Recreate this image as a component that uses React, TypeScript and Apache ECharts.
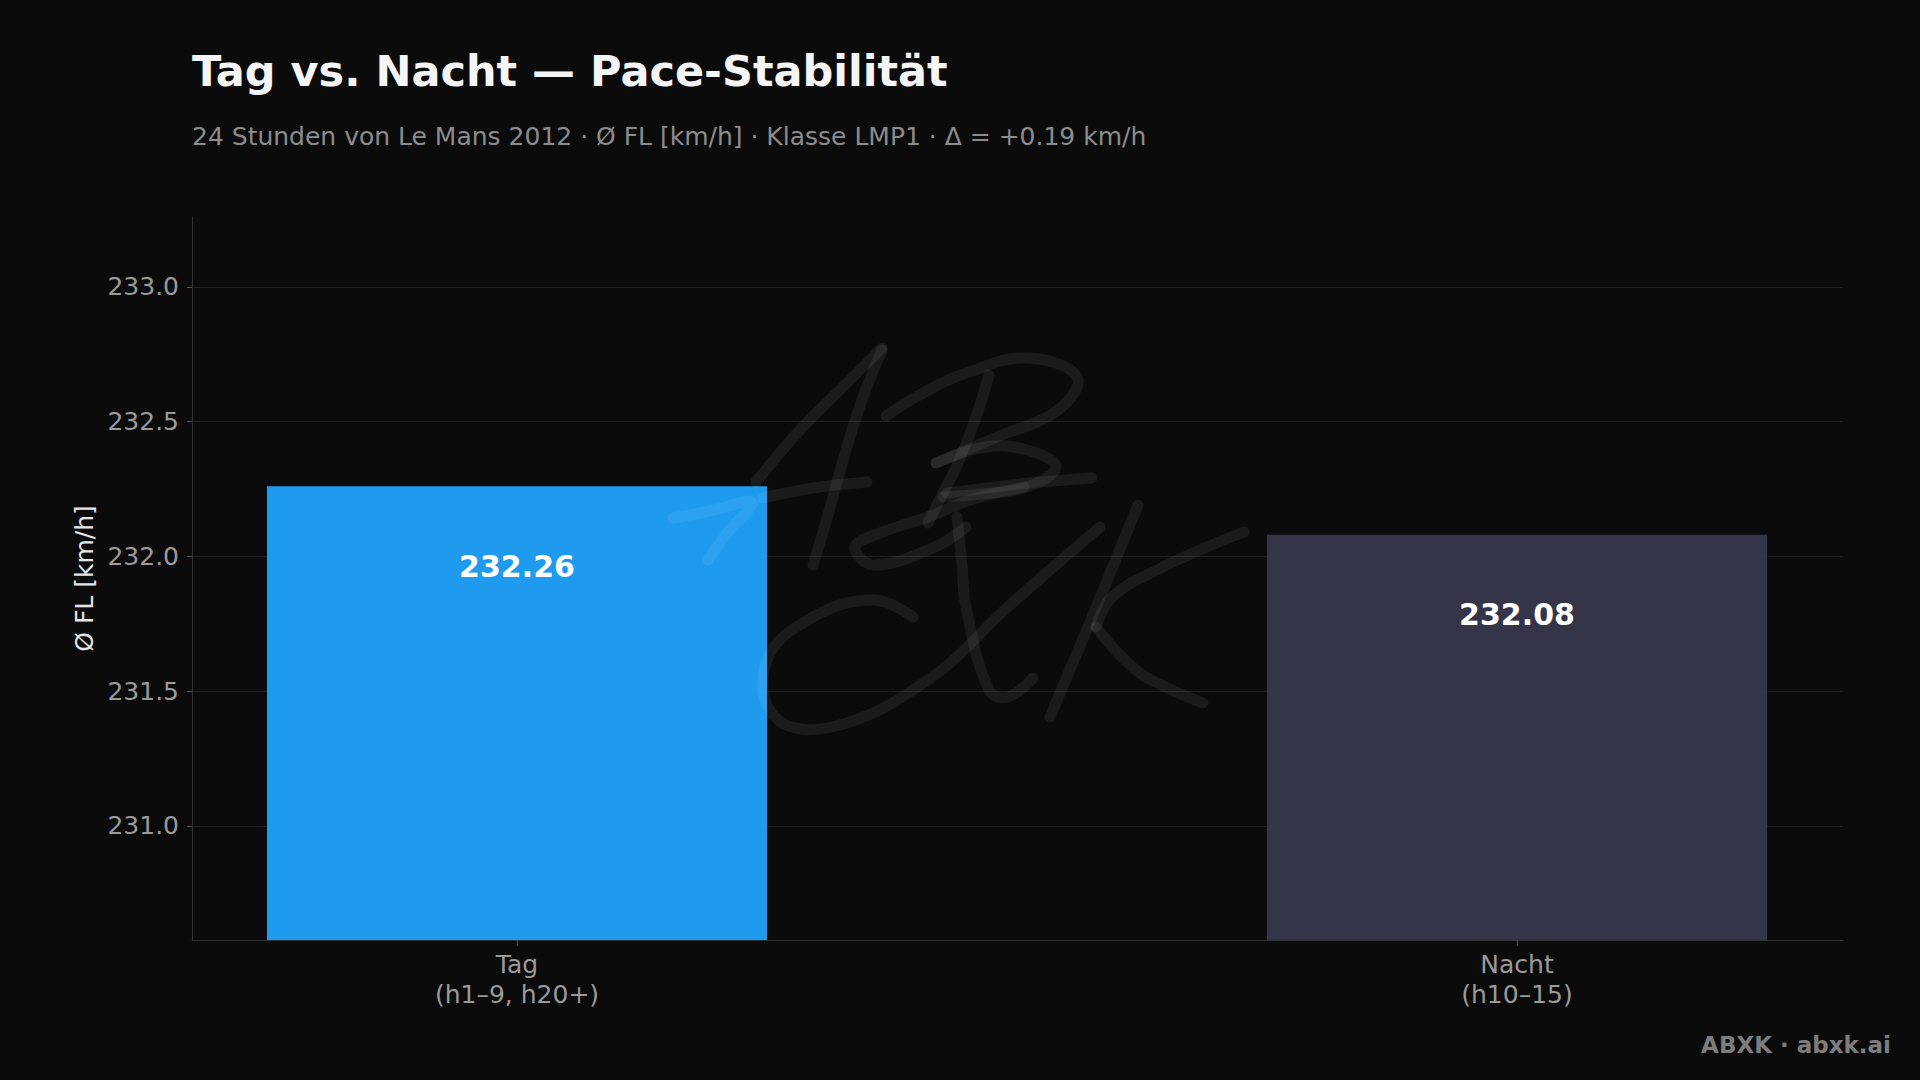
import React, { useEffect, useRef } from "react";
import * as echarts from "echarts";

const categories = ["Tag\n(h1–9, h20+)", "Nacht\n(h10–15)"];
const paceValues = [232.26, 232.08];
const barColors = ["#1e9bef", "#353549"];
const yTicks = [231.0, 231.5, 232.0, 232.5, 233.0];

// handwritten "ABXK" watermark strokes
const watermark: number[][][] = [
  [[756, 482], [800, 430], [845, 385], [882, 348]],
  [[882, 350], [862, 400], [844, 457], [828, 515], [813, 565]],
  [[763, 498], [813, 488], [867, 482]],
  [[673, 518], [715, 510], [752, 502], [728, 532], [708, 560]],
  [[989, 375], [975, 420], [958, 463], [942, 495], [928, 523]],
  [[886, 416], [925, 392], [966, 373], [1027, 358], [1077, 377], [1058, 410], [997, 437], [936, 463]],
  [[936, 463], [985, 447], [1027, 450], [1056, 467], [1027, 487], [980, 494], [943, 497]],
  [[947, 493], [1020, 484], [1092, 478]],
  [[1024, 487], [970, 500], [928, 517], [880, 533], [855, 547], [874, 565], [935, 547], [966, 527]],
  [[913, 617], [874, 600], [813, 617], [767, 660], [775, 717], [832, 727], [928, 680], [1010, 605], [1100, 527]],
  [[957, 517], [962, 565], [966, 607], [989, 690], [1008, 697], [1033, 678]],
  [[1138, 505], [1095, 610], [1050, 717]],
  [[1244, 532], [1200, 550], [1157, 570], [1112, 597], [1096, 627]],
  [[1096, 627], [1120, 655], [1146, 677], [1203, 703]],
];

const App: React.FC = () => {
  const chartRef = useRef<HTMLDivElement>(null);

  useEffect(() => {
    if (!chartRef.current) return;
    const chart = echarts.init(chartRef.current, null, { renderer: "svg" });

    const options = {
      animation: false,
      backgroundColor: "#0b0b0c",
      title: [
        {
          text: "Tag vs. Nacht — Pace-Stabilität",
          left: 187,
          top: 44,
          textStyle: { color: "#f5f5f5", fontSize: 43, fontWeight: "bold", fontFamily: "DejaVu Sans" },
        },
        {
          text: "24 Stunden von Le Mans 2012 · Ø FL [km/h] · Klasse LMP1 · Δ = +0.19 km/h",
          left: 187,
          top: 119,
          textStyle: { color: "#8c8c8c", fontSize: 25, fontWeight: "normal", fontFamily: "DejaVu Sans" },
        },
      ],
      grid: { left: 192, right: 77, top: 217, bottom: 140 },
      xAxis: {
        type: "value",
        min: -0.325,
        max: 1.326,
        splitLine: { show: false },
        axisLine: { show: true, onZero: false, lineStyle: { color: "#333335" } },
        axisTick: { show: true, customValues: [0, 1], length: 6, lineStyle: { color: "#555" } },
        axisLabel: {
          customValues: [0, 1],
          formatter: (v: number) => categories[Math.round(v)] ?? "",
          color: "#9a9a9a",
          fontSize: 25,
          lineHeight: 30,
          margin: 9,
          fontFamily: "DejaVu Sans",
        },
      },
      yAxis: {
        type: "value",
        min: 230.577,
        max: 233.259,
        name: "Ø FL [km/h]",
        nameLocation: "middle",
        nameGap: 92,
        nameTextStyle: { color: "#e6e6e6", fontSize: 25, fontFamily: "DejaVu Sans" },
        axisLine: { show: true, onZero: false, lineStyle: { color: "#333335" } },
        axisTick: { show: true, customValues: yTicks, length: 5, lineStyle: { color: "#555" } },
        splitLine: { show: true, lineStyle: { color: "#1f1f21", width: 1 } },
        axisLabel: {
          customValues: yTicks,
          formatter: (v: number) => v.toFixed(1),
          color: "#9a9a9a",
          fontSize: 25,
          margin: 13,
          fontFamily: "DejaVu Sans",
        },
      },
      series: [
        {
          type: "bar",
          barWidth: 500,
          data: paceValues.map((v, i) => ({
            value: [i, v],
            itemStyle: { color: barColors[i] },
          })),
          label: {
            show: true,
            position: "insideTop",
            distance: 65,
            formatter: (p: any) => p.value[1].toFixed(2),
            color: "#ffffff",
            fontSize: 30,
            fontWeight: "bold",
            fontFamily: "DejaVu Sans",
          },
        },
      ],
      graphic: [
        ...watermark.map((pts) => ({
          type: "polyline",
          z: 100,
          silent: true,
          shape: { points: pts, smooth: 0.4 },
          style: { stroke: "rgba(255,255,255,0.065)", lineWidth: 11, lineCap: "round", lineJoin: "round", fill: null },
        })),
        {
          type: "text",
          right: 29,
          bottom: 24,
          style: {
            text: "ABXK · abxk.ai",
            fill: "#7d7d7d",
            font: "bold 23px 'DejaVu Sans'",
          },
        },
      ],
    };

    chart.setOption(options as any);
    return () => {
      chart.dispose();
    };
  }, []);

  return (
    <div
      ref={chartRef}
      style={{ position: "fixed", left: 0, top: 0, width: "1920px", height: "1080px" }}
    />
  );
};

export default App;
